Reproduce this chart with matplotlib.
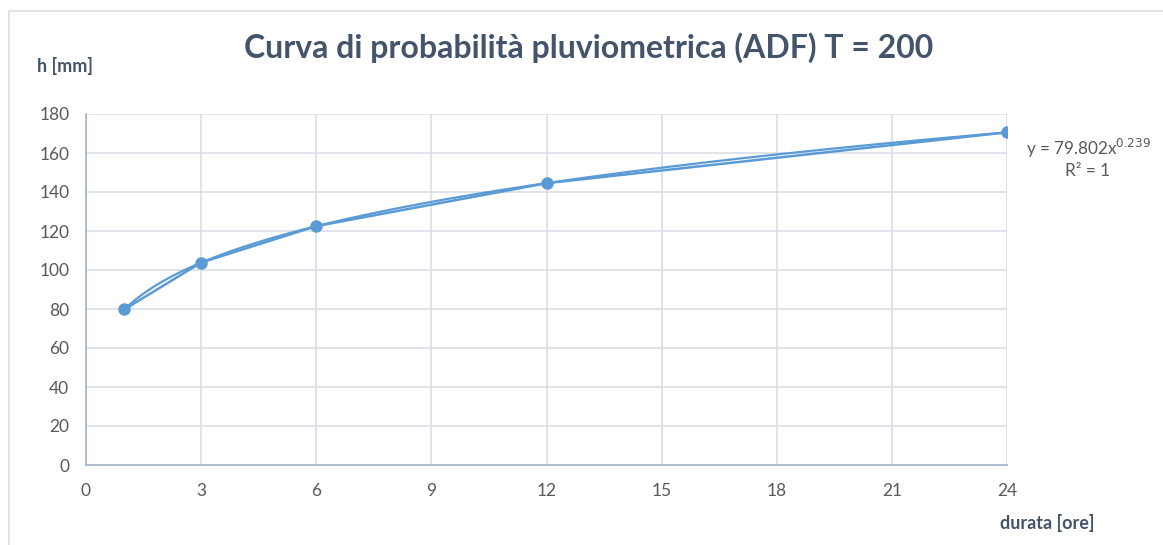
import numpy as np
import matplotlib
matplotlib.use("Agg")
import matplotlib.pyplot as plt
from matplotlib.patches import Rectangle

durata = [1, 3, 6, 12, 24]
h_mm = [79.8, 103.8, 122.5, 144.5, 170.6]
x_ticks = [0, 3, 6, 9, 12, 15, 18, 21, 24]
y_ticks = [0, 20, 40, 60, 80, 100, 120, 140, 160, 180]
title = "Curva di probabilità pluviometrica (ADF) T = 200"
eq_a, eq_b = 79.802, 0.239

W, H = 1163, 545
fig = plt.figure(figsize=(W / 100, H / 100), dpi=100)
fig.patch.set_facecolor("white")
plt.rcParams['font.family'] = ['Lato', 'DejaVu Sans']

# outer chart frame (cropped)
fig.add_artist(Rectangle((9 / W, -0.1), 2, 1 - 11 / H + 0.1, transform=fig.transFigure,
                         fill=False, edgecolor="#D9DEE6", linewidth=1.2))

left, right, top, bottom = 86, 1007, 114, 465
ax = fig.add_axes([left / W, 1 - bottom / H, (right - left) / W, (bottom - top) / H])
ax.set_xlim(0, 24)
ax.set_ylim(0, 180)
ax.set_xticks(x_ticks)
ax.set_yticks(y_ticks)
ax.grid(True, color="#D9DEE6", linewidth=1.2)
ax.set_axisbelow(True)
for s in ["top", "right"]:
    ax.spines[s].set_visible(False)
for s in ["left", "bottom"]:
    ax.spines[s].set_color("#A9B8CC")
    ax.spines[s].set_linewidth(1.3)
ax.tick_params(length=0, labelsize=12.5, colors="#595959", pad=12)
ax.tick_params(axis="x", pad=13)
for lab in ax.get_xticklabels() + ax.get_yticklabels():
    lab.set_color("#595959")

# trendline (power fit)
b, ln_a = np.polyfit(np.log(durata), np.log(h_mm), 1)
xs = np.linspace(durata[0], durata[-1], 300)
ax.plot(xs, np.exp(ln_a) * xs ** b, color="#5B9BD5", linewidth=1.6, zorder=3)
ax.plot(durata, h_mm, color="#5B9BD5", linewidth=1.8, marker="o", markersize=8, zorder=4)

fig.text(589 / W, 1 - 48 / H, title, ha="center", va="center", fontsize=23,
         fontweight="bold", color="#44546A")
fig.text(37 / W, 1 - 66 / H, "h [mm]", ha="left", va="center", fontsize=13,
         fontweight="bold", color="#44546A")
fig.text(1000 / W, 1 - 523 / H, "durata [ore]", ha="left", va="center", fontsize=13,
         fontweight="bold", color="#44546A")
fig.text(1088 / W, 1 - 148 / H, r"y = %.3fx$^{%.3f}$" % (eq_a, eq_b), ha="center", va="center",
         fontsize=12.3, color="#595959")
fig.text(1088 / W, 1 - 171 / H, "R² = 1", ha="center", va="center",
         fontsize=12.3, color="#595959")

fig.savefig("out.png", dpi=100)
